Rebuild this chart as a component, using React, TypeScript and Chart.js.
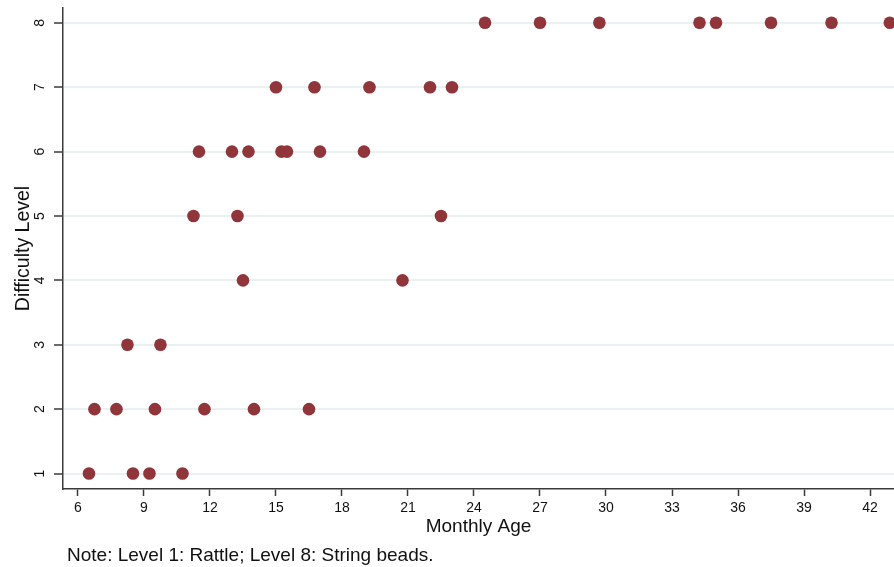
import React, { useEffect, useRef } from "react";
import { Chart, registerables } from "chart.js";

Chart.register(...registerables);

// Monthly age (x) and difficulty level (y) of each observation
const ages: number[] = [
  6.5, 8.5, 9.25, 10.75,
  6.75, 7.75, 9.5, 11.75, 14, 16.5,
  8.25, 9.75,
  13.5, 20.75,
  11.25, 13.25, 22.5,
  11.5, 13, 13.75, 15.25, 15.5, 17, 19,
  15, 16.75, 19.25, 22, 23,
  24.5, 27, 29.7, 34.25, 35, 37.5, 40.25, 42.9,
];
const levels: number[] = [
  1, 1, 1, 1,
  2, 2, 2, 2, 2, 2,
  3, 3,
  4, 4,
  5, 5, 5,
  6, 6, 6, 6, 6, 6, 6,
  7, 7, 7, 7, 7,
  8, 8, 8, 8, 8, 8, 8, 8,
];

const xTicks: number[] = [6, 9, 12, 15, 18, 21, 24, 27, 30, 33, 36, 39, 42];
const yTicks: number[] = [1, 2, 3, 4, 5, 6, 7, 8];

const xTitle = "Monthly Age";
const yTitle = "Difficulty Level";
const note = "Note: Level 1: Rattle; Level 8: String beads.";

const FONT = "'Liberation Sans', Arial, Helvetica, sans-serif";
const DOT = "#903539";
const GRID = "#e9f1f3";
const AXIS = "#3a3a3a";

export default function App() {
  const ref = useRef<HTMLCanvasElement | null>(null);

  useEffect(() => {
    if (!ref.current) return;
    const data = ages.map((a, i) => ({ x: a, y: levels[i] }));
    const chart = new Chart(ref.current, {
      type: "scatter",
      data: {
        datasets: [
          {
            data,
            backgroundColor: DOT,
            borderColor: DOT,
            borderWidth: 0,
            pointRadius: 6.3,
            pointHoverRadius: 6.3,
          },
        ],
      },
      options: {
        responsive: false,
        animation: false,
        events: [],
        layout: { autoPadding: false, padding: { left: 0, right: 0, top: 8, bottom: 0 } },
        plugins: {
          legend: { display: false },
          tooltip: { enabled: false },
        },
        scales: {
          x: {
            type: "linear",
            min: 5.32,
            max: 43.09,
            afterBuildTicks: (s: any) => {
              s.ticks = xTicks.map((v) => ({ value: v }));
            },
            afterFit: (s: any) => {
              s.height = 78;
              s.paddingLeft = 0;
              s.paddingRight = 0;
            },
            grid: {
              drawOnChartArea: false,
              drawTicks: true,
              tickLength: 7,
              tickColor: AXIS,
              tickWidth: 1.5,
            },
            border: { display: true, color: AXIS, width: 1.5 },
            ticks: {
              autoSkip: false,
              maxRotation: 0,
              minRotation: 0,
              padding: 4,
              color: "#111",
              font: { family: FONT, size: 14 },
            },
            title: {
              display: true,
              text: xTitle,
              color: "#111",
              font: { family: FONT, size: 19 },
              padding: { top: 0, bottom: 29 },
            },
          },
          y: {
            type: "linear",
            min: 0.76,
            max: 8.23,
            afterBuildTicks: (s: any) => {
              s.ticks = yTicks.map((v) => ({ value: v }));
            },
            afterFit: (s: any) => {
              s.width = 63;
              s.paddingTop = 0;
              s.paddingBottom = 0;
            },
            grid: {
              drawOnChartArea: true,
              color: GRID,
              lineWidth: 2,
              drawTicks: true,
              tickLength: 9,
              tickColor: AXIS,
              tickWidth: 1.5,
            },
            border: { display: true, color: AXIS, width: 1.5 },
            ticks: {
              autoSkip: false,
              minRotation: 90,
              maxRotation: 90,
              crossAlign: "center",
              padding: 10,
              color: "#111",
              font: { family: FONT, size: 14 },
            },
            title: {
              display: true,
              text: yTitle,
              color: "#111",
              font: { family: FONT, size: 19.5 },
              padding: { top: 12, bottom: 0 },
            },
          },
        },
      },
    });
    return () => chart.destroy();
  }, []);

  return (
    <div style={{ position: "absolute", left: 0, top: 0, width: 894, height: 567, background: "#fff" }}>
      <canvas ref={ref} width={894} height={567} style={{ display: "block" }} />
      <div
        style={{
          position: "absolute",
          left: 67,
          top: 545,
          fontFamily: FONT,
          fontSize: 19,
          lineHeight: "19px",
          color: "#111",
          whiteSpace: "nowrap",
        }}
      >
        {note}
      </div>
    </div>
  );
}
